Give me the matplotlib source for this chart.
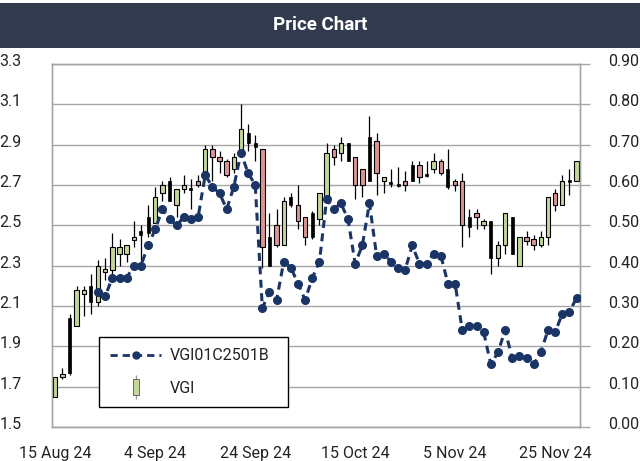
import numpy as np
import matplotlib
matplotlib.use("Agg")
import matplotlib.pyplot as plt
from matplotlib.lines import Line2D
from matplotlib.transforms import ScaledTranslation

plt.rcParams['font.family'] = ['Roboto', 'DejaVu Sans']

# ---- data ----
kinds = list("GGKGGKGGGGGGKKGGKGGKRGRRRGGKKRKRGKRRKGGRGKRRKRGKKRKRKGRKRRKRGKGGKGRRGGRGKG")
opens = [1.65, 1.75, 1.77, 2.00, 2.16, 2.20, 2.12, 2.27, 2.28, 2.36,
         2.36, 2.43, 2.45, 2.46, 2.51, 2.66, 2.62, 2.60, 2.68, 2.675,
         2.72, 2.74, 2.88, 2.84, 2.82, 2.78, 2.87, 2.91, 2.89, 2.88,
         2.30, 2.50, 2.40, 2.60, 2.60, 2.54, 2.44, 2.53, 2.64, 2.88,
         2.86, 2.82, 2.84, 2.78, 2.72, 2.92, 2.72, 2.705, 2.695, 2.72,
         2.72, 2.80, 2.745, 2.78, 2.82, 2.69, 2.72, 2.72, 2.49, 2.56,
         2.50, 2.34, 2.34, 2.40, 2.36, 2.30, 2.44, 2.43, 2.40, 2.44,
         2.66, 2.60, 2.715, 2.72]
closes = [1.75, 1.76, 2.04, 2.18, 2.18, 2.12, 2.30, 2.28, 2.39, 2.39,
          2.40, 2.44, 2.47, 2.54, 2.64, 2.70, 2.72, 2.68, 2.70, 2.685,
          2.70, 2.88, 2.84, 2.82, 2.75, 2.84, 2.98, 2.96, 2.91, 2.39,
          2.44, 2.40, 2.62, 2.64, 2.52, 2.44, 2.56, 2.66, 2.86, 2.84,
          2.91, 2.91, 2.70, 2.70, 2.94, 2.76, 2.74, 2.715, 2.705, 2.70,
          2.80, 2.74, 2.755, 2.82, 2.76, 2.78, 2.70, 2.50, 2.54, 2.54,
          2.52, 2.52, 2.40, 2.56, 2.54, 2.44, 2.42, 2.40, 2.44, 2.64,
          2.60, 2.72, 2.725, 2.82]
highs = [1.75, 1.79, 2.06, 2.20, 2.20, 2.26, 2.33, 2.34, 2.46, 2.43,
         2.40, 2.52, 2.50, 2.60, 2.69, 2.72, 2.74, 2.68, 2.75, 2.73,
         2.75, 2.90, 2.90, 2.87, 2.83, 2.86, 3.10, 3.00, 2.95, 2.88,
         2.56, 2.58, 2.64, 2.66, 2.70, 2.54, 2.57, 2.66, 2.91, 2.90,
         2.94, 2.91, 2.84, 2.78, 3.04, 2.96, 2.74, 2.78, 2.79, 2.77,
         2.82, 2.82, 2.82, 2.86, 2.83, 2.88, 2.73, 2.76, 2.58, 2.58,
         2.53, 2.52, 2.42, 2.56, 2.54, 2.44, 2.47, 2.45, 2.47, 2.64,
         2.68, 2.75, 2.78, 2.82]
lows = [1.65, 1.74, 1.76, 2.00, 2.05, 2.06, 2.10, 2.23, 2.26, 2.30,
        2.32, 2.39, 2.29, 2.44, 2.51, 2.62, 2.62, 2.54, 2.66, 2.58,
        2.69, 2.74, 2.72, 2.76, 2.74, 2.76, 2.87, 2.87, 2.82, 2.29,
        2.30, 2.39, 2.40, 2.59, 2.48, 2.40, 2.43, 2.50, 2.64, 2.80,
        2.82, 2.82, 2.63, 2.64, 2.72, 2.65, 2.66, 2.69, 2.69, 2.67,
        2.72, 2.71, 2.74, 2.76, 2.75, 2.68, 2.67, 2.39, 2.44, 2.48,
        2.48, 2.26, 2.30, 2.36, 2.36, 2.30, 2.40, 2.38, 2.39, 2.40,
        2.57, 2.60, 2.65, 2.72]
warrant = [np.nan] * 6 + [
    0.335, 0.325, 0.37, 0.37, 0.37, 0.40, 0.40, 0.45, 0.49, 0.54,
    0.515, 0.50, 0.52, 0.515, 0.52, 0.625, 0.595, 0.58, 0.54, 0.595,
    0.68, 0.63, 0.60, 0.295, 0.335, 0.315, 0.41, 0.395, 0.355, 0.315,
    0.37, 0.41, 0.565, 0.54, 0.555, 0.515, 0.405, 0.45, 0.555, 0.425,
    0.43, 0.41, 0.395, 0.39, 0.45, 0.405, 0.405, 0.43, 0.425, 0.355,
    0.355, 0.24, 0.25, 0.25, 0.235, 0.155, 0.185, 0.24, 0.17, 0.175,
    0.17, 0.155, 0.185, 0.24, 0.235, 0.28, 0.285, 0.32]
tick_idx = [0, 14, 28, 42, 56, 70]
tick_labels = ["15 Aug 24", "4 Sep 24", "24 Sep 24", "15 Oct 24", "5 Nov 24", "25 Nov 24"]
left_ticks = [1.5, 1.7, 1.9, 2.1, 2.3, 2.5, 2.7, 2.9, 3.1, 3.3]
right_ticks = [0.0, 0.1, 0.2, 0.3, 0.4, 0.5, 0.6, 0.7, 0.8, 0.9]

GREEN = '#c4d79b'
PINK = '#d99694'
NAVY = '#1a3466'
GRID = '#a6a6a6'

fig = plt.figure(figsize=(6.4, 4.61), dpi=100)
# title bar
fig.patches.append(plt.Rectangle((0, 0.896), 1, 0.0975, transform=fig.transFigure,
                                 facecolor='#323b4d', edgecolor='none', zorder=0))
fig.text(0.5, 0.945, "Price Chart", color='white', fontsize=13.5, fontweight='bold',
         ha='center', va='center')

ax = fig.add_axes([0.08125, 0.0738, 0.825, 0.7874])
x = np.arange(len(opens))
for i in x:
    o, c, h, l, k = opens[i], closes[i], highs[i], lows[i], kinds[i]
    ax.vlines(i, l, h, color='black', linewidth=0.9, zorder=2)
    lo, hi = min(o, c), max(o, c)
    ht = max(hi - lo, 0.012)
    if k == 'K':
        ax.bar(i, ht, bottom=lo - (ht - (hi - lo)) / 2, width=0.42, color='black',
               edgecolor='black', linewidth=0.5, zorder=3)
    else:
        ax.bar(i, ht, bottom=lo - (ht - (hi - lo)) / 2, width=0.62,
               color=GREEN if k == 'G' else PINK, edgecolor='black', linewidth=0.8, zorder=3)

ax.set_xlim(-0.46, 73.49)
ax.set_ylim(1.5, 3.3)
ax.set_yticks(left_ticks)
ax.set_yticklabels([f"{v:.1f}" for v in left_ticks])
ax.set_xticks(tick_idx)
ax.set_xticklabels(tick_labels)
ax.grid(axis='y', color=GRID, linewidth=1.0, zorder=0)
ax.set_axisbelow(True)
ax.tick_params(axis='y', length=0, pad=22, labelsize=11.5, labelcolor='#222222')
ax.tick_params(axis='x', length=0, pad=14, labelsize=11.5, labelcolor='#222222')
for s in ax.spines.values():
    s.set_color(GRID)
    s.set_linewidth(1.0)

ax2 = ax.twinx()
ax2.plot(x, warrant, color=NAVY, linestyle=(0, (2.6, 1.8)), linewidth=2.2,
         marker='o', markersize=5.5, markerfacecolor=NAVY, markeredgecolor=NAVY, zorder=5)
ax2.set_ylim(0, 0.9)
ax2.set_yticks(right_ticks)
ax2.set_yticklabels([f"{v:.2f}" for v in right_ticks])
ax2.tick_params(axis='y', length=7, color=GRID, width=1.0, pad=13, labelsize=11.5,
                labelcolor='#222222')
for s in ax2.spines.values():
    s.set_color(GRID)
    s.set_linewidth(1.0)

off = ScaledTranslation(0, 4 / 100, fig.dpi_scale_trans)
for lab in ax.get_yticklabels() + ax2.get_yticklabels():
    lab.set_transform(lab.get_transform() + off)

# legend
h_line = Line2D([], [], color=NAVY, linestyle=(0, (2.6, 1.8)), linewidth=2.0,
                marker='o', markersize=5, markerfacecolor=NAVY, markeredgecolor=NAVY)
h_wick = Line2D([], [], linestyle='none', marker='|', markersize=17, color='#999999',
                markeredgewidth=1.0)
h_body = Line2D([], [], linestyle='none', marker=[(-1, -3.2), (1, -3.2), (1, 3.2), (-1, 3.2), (-1, -3.2)],
                markersize=12, markerfacecolor=GREEN, markeredgecolor='#555555', markeredgewidth=0.6)
leg = ax2.legend([h_line, (h_wick, h_body)], ["VGI01C2501B", "VGI"],
                 loc='lower left', bbox_to_anchor=(0.089, 0.055, 0.358, 0.2), mode='expand',
                 fontsize=11.5, frameon=True, fancybox=False, framealpha=1,
                 edgecolor='black', numpoints=1, handlelength=3.2, handletextpad=0.5,
                 labelspacing=1.1, borderpad=0.7, borderaxespad=0)
leg.get_frame().set_linewidth(1.0)
for t in leg.get_texts():
    t.set_color('#222222')

fig.savefig("out.png", dpi=100)
